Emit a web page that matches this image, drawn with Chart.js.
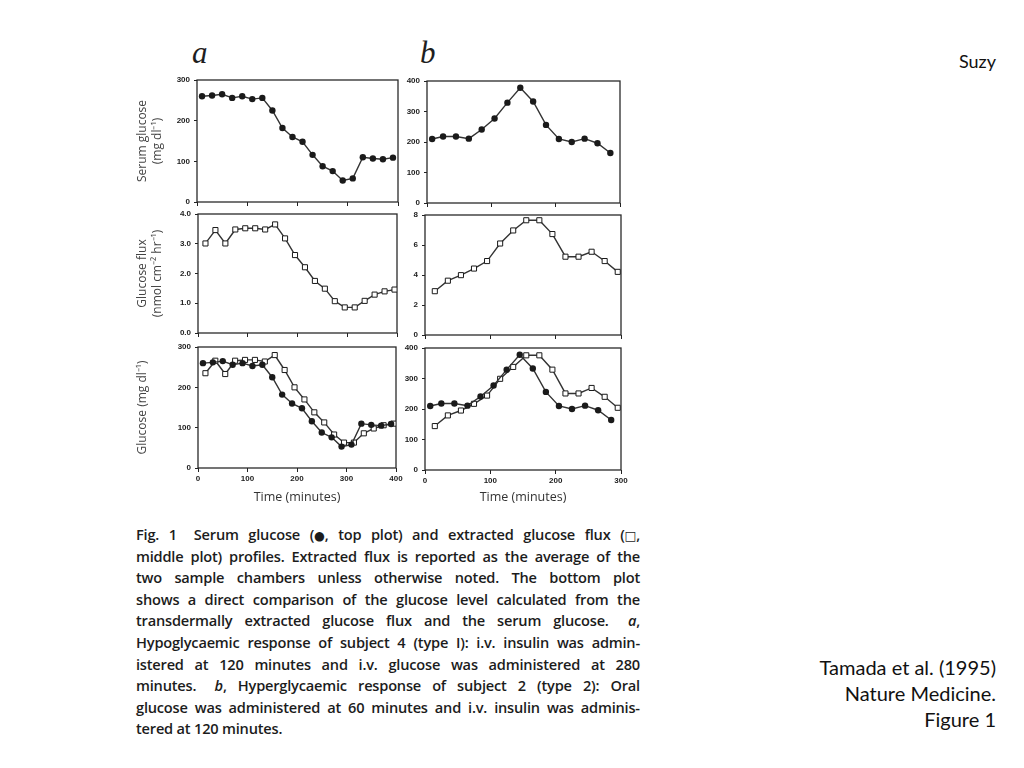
<!DOCTYPE html>
<html>
<head>
<meta charset="utf-8">
<script src="https://cdn.jsdelivr.net/npm/chart.js@4.4.0/dist/chart.umd.min.js"></script>
<style>
  body { margin: 0; background: #fff; width: 1024px; height: 768px; position: relative; overflow: hidden; }
  canvas { position: absolute; }
  .letter { position: absolute; font-family: "Liberation Serif", serif; font-style: italic; font-size: 31px; line-height: 30px; color: #1e1e1e; }
  .caption { position: absolute; left: 136px; top: 524px; width: 504px; font-family: "Open Sans", sans-serif; font-weight: 600; font-size: 14.6px; line-height: 21.6px; letter-spacing: -0.2px; color: #1c1c1c; }
  .caption div { height: 21.6px; white-space: nowrap; }
  .caption span { white-space: pre; }
  .caption b { font-family: "DejaVu Sans", sans-serif; font-weight: normal; font-size: 0.85em; }
  .note { position: absolute; right: 28px; font-family: Lato, sans-serif; color: #111; text-align: right; }
</style>
</head>
<body>
<div class="letter" style="left:192px; top:38px;">a</div>
<div class="letter" style="left:420px; top:38px;">b</div>

<canvas id="aTop"></canvas>
<canvas id="aMid"></canvas>
<canvas id="aBot"></canvas>
<canvas id="bTop"></canvas>
<canvas id="bMid"></canvas>
<canvas id="bBot"></canvas>

<div class="caption" id="caption">
  <div>Fig. 1&nbsp;&nbsp; Serum glucose (<b>●</b>, top plot) and extracted glucose flux (<b>□</b>,</div>
  <div>middle plot) profiles. Extracted flux is reported as the average of the</div>
  <div>two sample chambers unless otherwise noted. The bottom plot</div>
  <div>shows a direct comparison of the glucose level calculated from the</div>
  <div>transdermally extracted glucose flux and the serum glucose.&nbsp;&nbsp; <i>a</i>,</div>
  <div>Hypoglycaemic response of subject 4 (type I): i.v. insulin was admin-</div>
  <div>istered at 120 minutes and i.v. glucose was administered at 280</div>
  <div>minutes.&nbsp;&nbsp; <i>b</i>, Hyperglycaemic response of subject 2 (type 2): Oral</div>
  <div>glucose was administered at 60 minutes and i.v. insulin was adminis-</div>
  <div class="last">tered at 120 minutes.</div>
</div>

<div class="note" style="top:50px; font-size:18px;">Suzy</div>
<div class="note" style="top:654px; font-size:20px; line-height:26px;">Tamada et al. (1995)<br>Nature Medicine.<br>Figure 1</div>

<script>
// panel a: subject 4, hypoglycaemic
const timeA = [10, 30, 50, 70, 90, 110, 130, 150, 170, 190, 210, 230, 250, 270, 290, 310, 330, 350, 370, 390];
const serumA = [260, 262, 265, 256, 260, 253, 256, 225, 182, 160, 148, 116, 88, 76, 53, 58, 110, 107, 105, 109];
const fluxTimeA = [15, 35, 55, 75, 95, 115, 135, 155, 175, 195, 215, 235, 255, 275, 295, 315, 335, 355, 375, 395];
const fluxA = [3.01, 3.46, 3.01, 3.48, 3.52, 3.52, 3.48, 3.65, 3.18, 2.62, 2.21, 1.75, 1.49, 1.07, 0.86, 0.86, 1.08, 1.29, 1.40, 1.46];
const fluxGlucoseA = [235, 266, 233, 266, 268, 268, 264, 280, 243, 200, 170, 138, 113, 83, 63, 63, 86, 98, 106, 110];

// panel b: subject 2, hyperglycaemic
const timeB = [8, 25, 45, 65, 85, 105, 125, 145, 165, 185, 205, 225, 245, 265, 285];
const serumB = [210, 218, 218, 211, 241, 277, 329, 378, 333, 256, 210, 200, 211, 196, 164];
const fluxTimeB = [15, 35, 55, 75, 95, 115, 135, 155, 175, 195, 215, 235, 255, 275, 295];
const fluxB = [2.92, 3.62, 3.99, 4.43, 4.93, 6.1, 6.97, 7.65, 7.65, 6.73, 5.22, 5.22, 5.55, 4.93, 4.21];
const fluxGlucoseB = [144, 179, 195, 217, 244, 299, 338, 376, 376, 329, 251, 251, 269, 240, 204];

// tick labels
const ticksTimeA = [0, 100, 200, 300, 400];
const ticksTimeB = [0, 100, 200, 300];
const ticksGlucoseA = [0, 100, 200, 300];
const ticksGlucoseB = [0, 100, 200, 300, 400];
const ticksFluxA = [0, 1, 2, 3, 4];
const ticksFluxB = [0, 2, 4, 6, 8];

const ink = '#222';
const tickFont = { family: 'Liberation Sans', size: 8, weight: 'bold' };
const titleFont = { family: 'Open Sans', size: 12 };

// box around each plot
const panelFrame = {
  id: 'panelFrame',
  beforeDatasetsDraw(chart) {
    const { ctx, chartArea: a } = chart;
    ctx.save();
    ctx.strokeStyle = '#2a2a2a';
    ctx.lineWidth = 1.3;
    ctx.strokeRect(a.left, a.top, a.right - a.left, a.bottom - a.top);
    ctx.restore();
  }
};

const pts = (xs, ys) => xs.map((x, i) => ({ x: x, y: ys[i] }));

const serumSet = (xs, ys) => ({
  data: pts(xs, ys),
  borderColor: '#333',
  borderWidth: 1.4,
  pointStyle: 'circle',
  pointRadius: 3.2,
  pointBackgroundColor: '#1a1a1a',
  pointBorderColor: '#1a1a1a',
  pointBorderWidth: 0
});

const fluxSet = (xs, ys) => ({
  data: pts(xs, ys),
  borderColor: '#333',
  borderWidth: 1.4,
  pointStyle: 'rect',
  pointRadius: 3.6,
  pointBackgroundColor: '#fff',
  pointBorderColor: '#1a1a1a',
  pointBorderWidth: 1
});

function drawPanel(id, cv, box, p) {
  const el = document.getElementById(id);
  el.width = cv.w;
  el.height = cv.h;
  el.style.left = cv.left + 'px';
  el.style.top = cv.top + 'px';

  const yWidth = box.l - cv.left;
  const xHeight = cv.top + cv.h - box.b;

  new Chart(el, {
    type: 'line',
    data: { datasets: p.datasets },
    options: {
      responsive: false,
      animation: false,
      devicePixelRatio: 1,
      layout: { padding: { left: 0, top: box.t - cv.top, right: cv.left + cv.w - box.r, bottom: 0 } },
      plugins: { legend: { display: false }, tooltip: { enabled: false } },
      scales: {
        x: {
          type: 'linear',
          min: 0,
          max: p.xTicks[p.xTicks.length - 1],
          afterBuildTicks: (s) => { s.ticks = p.xTicks.map(v => ({ value: v })); },
          afterFit: (s) => { s.height = xHeight; },
          border: { display: false },
          grid: { drawOnChartArea: false, tickLength: 4, color: ink },
          ticks: { display: p.xLabels, font: tickFont, color: ink, padding: 2, maxRotation: 0 },
          title: {
            display: p.xLabels,
            text: 'Time (minutes)',
            font: { family: 'Open Sans', size: 12.5 },
            color: '#333',
            padding: { top: 0, bottom: 10 }
          }
        },
        y: {
          min: 0,
          max: p.yTicks[p.yTicks.length - 1],
          afterBuildTicks: (s) => { s.ticks = p.yTicks.map(v => ({ value: v })); },
          afterFit: (s) => { s.width = yWidth; },
          border: { display: false },
          grid: { drawOnChartArea: false, tickLength: 3, color: ink },
          ticks: { font: tickFont, color: ink, padding: 4, callback: p.yFormat || (v => v) },
          title: {
            display: !!p.yTitle,
            text: p.yTitle || '',
            font: titleFont,
            color: '#444',
            padding: { top: 10.8, bottom: 0 }
          }
        }
      }
    },
    plugins: [panelFrame]
  });
}

drawPanel('aTop', { left: 125, top: 70, w: 285, h: 142 }, { l: 197, t: 80, r: 398, b: 202 }, {
  datasets: [serumSet(timeA, serumA)],
  xTicks: ticksTimeA, yTicks: ticksGlucoseA, xLabels: false,
  yTitle: ['Serum glucose', '(mg dl⁻¹)']
});
drawPanel('aMid', { left: 125, top: 204, w: 285, h: 139 }, { l: 198, t: 214, r: 397, b: 333 }, {
  datasets: [fluxSet(fluxTimeA, fluxA)],
  xTicks: ticksTimeA, yTicks: ticksFluxA, xLabels: false,
  yFormat: v => v.toFixed(1),
  yTitle: ['Glucose flux', '(nmol cm⁻² hr⁻¹)']
});
drawPanel('aBot', { left: 125, top: 337, w: 290, h: 178 }, { l: 198, t: 347, r: 396, b: 468 }, {
  datasets: [serumSet(timeA, serumA), fluxSet(fluxTimeA, fluxGlucoseA)],
  xTicks: ticksTimeA, yTicks: ticksGlucoseA, xLabels: true,
  yTitle: 'Glucose (mg dl⁻¹)'
});
drawPanel('bTop', { left: 395, top: 71, w: 240, h: 142 }, { l: 427, t: 81, r: 620, b: 203 }, {
  datasets: [serumSet(timeB, serumB)],
  xTicks: ticksTimeB, yTicks: ticksGlucoseB, xLabels: false
});
drawPanel('bMid', { left: 395, top: 205, w: 240, h: 141 }, { l: 425, t: 215, r: 621, b: 335 }, {
  datasets: [fluxSet(fluxTimeB, fluxB)],
  xTicks: ticksTimeB, yTicks: ticksFluxB, xLabels: false
});
drawPanel('bBot', { left: 395, top: 338, w: 240, h: 177 }, { l: 425, t: 348, r: 621, b: 470 }, {
  datasets: [serumSet(timeB, serumB), fluxSet(fluxTimeB, fluxGlucoseB)],
  xTicks: ticksTimeB, yTicks: ticksGlucoseB, xLabels: true
});

// spread the words of each caption line over the column width
const lines = [...document.querySelectorAll('#caption div')].filter(l => !l.classList.contains('last'));
lines.forEach(line => {
  const words = line.innerHTML.trim().split(/ +/);
  line.innerHTML = words.map(w => '<span>' + w + '</span>').join('');
  line.style.display = 'flex';
  line.style.justifyContent = 'space-between';
});

// once the fonts are in, tighten any line that is still too long
document.fonts.ready.then(() => {
  lines.forEach(line => {
    let ls = -0.2;
    while (line.scrollWidth > 504 && ls > -2) {
      ls -= 0.1;
      line.style.letterSpacing = ls + 'px';
    }
  });
});
</script>
</body>
</html>
